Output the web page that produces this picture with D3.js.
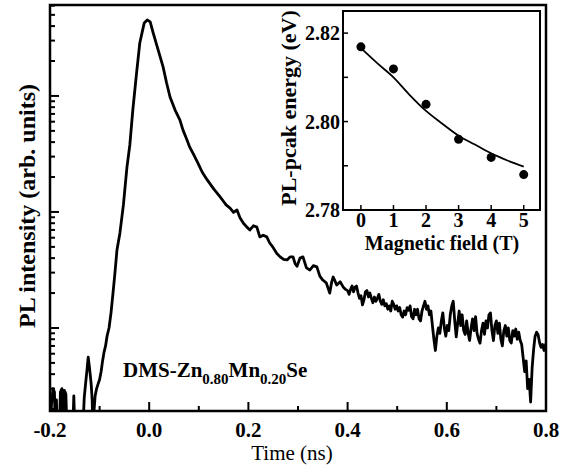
<!DOCTYPE html>
<html>
<head>
<meta charset="utf-8">
<script src="https://d3js.org/d3.v7.min.js"></script>
<style>
  body { margin: 0; background: #fff; }
  text { font-family: "Liberation Serif", "Times New Roman", serif; fill: #000; }
</style>
</head>
<body>
<div id="area"></div>
<script>
// time-resolved PL trace, [time (ns), intensity (arb. units)]
var plTrace = [
  [-0.200,0.10],[-0.197,0.22],[-0.194,0.30],[-0.191,0.28],[-0.189,0.10],[-0.187,0.24],[-0.185,0.10],
  [-0.182,0.10],[-0.179,0.28],[-0.176,0.30],[-0.173,0.12],[-0.171,0.29],[-0.168,0.27],[-0.165,0.10],
  [-0.160,0.10],[-0.155,0.10],[-0.152,0.26],[-0.149,0.10],[-0.145,0.10],[-0.140,0.10],[-0.135,0.10],
  [-0.131,0.25],[-0.128,0.34],[-0.125,0.45],[-0.123,0.56],[-0.121,0.48],[-0.119,0.40],[-0.117,0.33],
  [-0.115,0.24],[-0.113,0.10],[-0.111,0.20],[-0.109,0.26],[-0.106,0.30],[-0.103,0.33],[-0.100,0.36],
  [-0.097,0.42],[-0.094,0.52],[-0.091,0.62],[-0.088,0.70],[-0.085,0.85],[-0.081,1.0],[-0.077,1.35],
  [-0.073,2.0],[-0.069,3.0],[-0.065,4.7],[-0.059,6.6],[-0.052,11.5],[-0.045,24],[-0.039,38],
  [-0.033,76],[-0.026,150],[-0.019,286],[-0.010,426],[-0.004,452],[0.002,435],[0.008,349],
  [0.018,249],[0.028,178],[0.035,130],[0.042,98],[0.052,76],[0.062,62],[0.068,51],[0.075,43],
  [0.082,36],[0.090,31],[0.098,26.5],[0.107,22],[0.117,18.9],[0.130,15.8],[0.143,13.5],[0.150,12.3],
  [0.155,11.5],[0.163,10.8],[0.170,9.9],[0.177,10.4],[0.183,8.9],[0.190,8.0],[0.197,7.4],[0.203,7.0],
  [0.210,7.6],[0.217,7.4],[0.223,6.1],[0.230,6.3],[0.237,6.1],[0.243,5.4],[0.249,5.0],[0.257,4.4],
  [0.264,4.1],[0.271,3.9],[0.278,3.86],[0.284,4.1],[0.290,4.1],[0.294,3.6],[0.298,3.4],[0.304,4.0],
  [0.310,4.1],[0.317,3.3],[0.324,3.16],[0.331,3.45],[0.338,3.36],[0.344,2.8],[0.350,2.59],[0.357,2.45],
  [0.364,2.00],[0.368,2.5],[0.371,2.75],[0.378,2.35],[0.385,2.5],[0.391,2.26],[0.396,2.15],
  [0.400,2.10],[0.403,1.95],[0.406,2.15],[0.409,2.30],[0.412,2.05],[0.415,2.25],[0.418,2.30],[0.421,2.00],
  [0.424,1.80],[0.427,1.90],[0.430,1.58],[0.433,1.75],[0.436,2.05],[0.439,2.10],[0.442,1.85],[0.445,2.00],
  [0.448,1.80],[0.451,1.65],[0.454,1.85],[0.457,1.70],[0.460,1.80],[0.463,1.95],[0.466,1.70],[0.469,1.60],
  [0.472,1.75],[0.475,1.55],[0.478,1.62],[0.481,1.45],[0.484,1.55],[0.487,1.40],[0.490,1.70],[0.493,1.60],
  [0.496,1.45],[0.499,1.55],[0.502,1.40],[0.505,1.50],[0.508,1.30],[0.511,1.24],[0.514,1.40],[0.517,1.30],
  [0.520,1.50],[0.523,1.42],[0.526,1.55],[0.529,1.25],[0.532,1.20],[0.535,1.45],[0.538,1.30],[0.541,1.45],
  [0.544,1.20],[0.547,1.15],[0.550,1.40],[0.553,1.55],[0.556,1.70],[0.559,1.45],[0.562,1.55],[0.565,1.30],
  [0.568,1.40],[0.571,1.05],[0.574,0.80],[0.577,0.64],[0.580,0.85],[0.583,1.00],[0.586,0.90],[0.589,1.15],
  [0.592,1.35],[0.595,1.00],[0.598,0.85],[0.601,1.05],[0.604,0.95],[0.607,1.30],[0.610,1.55],[0.613,1.70],
  [0.616,1.15],[0.619,0.84],[0.622,1.10],[0.625,1.40],[0.628,1.05],[0.631,1.30],[0.634,0.95],[0.637,0.88],
  [0.640,1.15],[0.643,0.90],[0.646,0.78],[0.649,1.00],[0.652,1.20],[0.655,0.95],[0.658,1.25],[0.661,0.90],
  [0.664,0.80],[0.667,0.74],[0.670,0.95],[0.673,1.10],[0.676,0.88],[0.679,1.15],[0.682,1.00],[0.685,1.30],
  [0.688,1.35],[0.691,0.95],[0.694,0.78],[0.697,1.05],[0.700,1.15],[0.703,0.90],[0.706,1.10],[0.709,0.80],
  [0.712,0.70],[0.715,0.95],[0.718,1.05],[0.721,0.85],[0.724,1.00],[0.727,0.78],[0.730,0.74],[0.733,0.95],
  [0.736,0.85],[0.739,0.98],[0.742,0.80],[0.745,0.92],[0.748,0.78],[0.751,0.72],[0.754,0.55],[0.757,0.42],
  [0.760,0.52],[0.763,0.30],[0.766,0.36],[0.769,0.23],[0.772,0.45],[0.775,0.65],[0.778,0.85],[0.781,0.92],
  [0.784,0.88],[0.787,0.75],[0.790,0.68],[0.793,0.72],[0.796,0.64],[0.799,0.72],[0.800,0.70]
];

var timeTicks = [-0.2, 0.0, 0.2, 0.4, 0.6, 0.8];
var timeTickLabels = ["-0.2", "0.0", "0.2", "0.4", "0.6", "0.8"];
var timeMinorTicks = [-0.1, 0.1, 0.3, 0.5, 0.7];

// inset: PL peak energy vs magnetic field
var fieldT = [0, 1, 2, 3, 4, 5];
var peakEnergy = [2.8169, 2.8119, 2.8039, 2.7960, 2.7919, 2.7880];
var fitField = [0, 0.5, 1, 1.5, 2, 2.5, 3, 3.5, 4, 4.5, 5];
var fitEnergy = [2.8166, 2.8132, 2.8100, 2.8060, 2.8024, 2.7995, 2.7968, 2.7948, 2.7928, 2.7912, 2.7898];
var energyTicks = [2.78, 2.80, 2.82];
var energyTickLabels = ["2.78", "2.80", "2.82"];
var energyMinorTicks = [2.79, 2.81];
var fieldTickLabels = ["0", "1", "2", "3", "4", "5"];

var width = 574, height = 468;
var mLeft = 50, mRight = 546, mTop = 5, mBottom = 411;

var svg = d3.select("#area")
.append("svg")
  .attr("width", width)
  .attr("height", height);

var x = d3.scaleLinear().domain([-0.2, 0.8]).range([mLeft, mRight]);
var y = d3.scaleLog().domain([0.1925, 608]).range([mBottom, mTop]);

svg.append("clipPath").attr("id", "plot-clip")
.append("rect")
  .attr("x", mLeft).attr("y", mTop)
  .attr("width", mRight - mLeft).attr("height", mBottom - mTop);

// main trace
var line = d3.line()
  .x(function(d) { return x(d[0]); })
  .y(function(d) { return y(d[1]); });

svg.append("path")
  .datum(plTrace)
  .attr("clip-path", "url(#plot-clip)")
  .attr("d", line)
  .attr("fill", "none")
  .attr("stroke", "#000")
  .attr("stroke-width", 2.8)
  .attr("stroke-linejoin", "round");

// log ticks on left, pointing inward
var yTicks = y.ticks();
svg.append("g").selectAll("line")
.data(yTicks)
.enter()
.append("line")
  .attr("x1", mLeft)
  .attr("x2", function(d) { return Math.abs(Math.log10(d) - Math.round(Math.log10(d))) < 1e-6 ? mLeft + 9 : mLeft + 5; })
  .attr("y1", function(d) { return y(d); })
  .attr("y2", function(d) { return y(d); })
  .attr("stroke", "#000")
  .attr("stroke-width", 2);

// time ticks, pointing up
svg.append("g").selectAll("line")
.data(timeTicks.map(function(t) { return [t, 9]; }).concat(timeMinorTicks.map(function(t) { return [t, 5]; })))
.enter()
.append("line")
  .attr("x1", function(d) { return x(d[0]); })
  .attr("x2", function(d) { return x(d[0]); })
  .attr("y1", mBottom)
  .attr("y2", function(d) { return mBottom - d[1]; })
  .attr("stroke", "#000")
  .attr("stroke-width", 2);

svg.append("g").selectAll("text")
.data(timeTicks)
.enter()
.append("text")
  .attr("x", function(d) { return x(d); })
  .attr("y", 437)
  .attr("text-anchor", "middle")
  .style("font-size", "21px")
  .style("font-weight", "bold")
  .text(function(d, i) { return timeTickLabels[i]; });

svg.append("text")
  .attr("x", 292).attr("y", 460)
  .attr("text-anchor", "middle")
  .style("font-size", "21px")
  .text("Time (ns)");

svg.append("text")
  .attr("transform", "translate(35,206) rotate(-90)")
  .attr("text-anchor", "middle")
  .style("font-size", "24px")
  .style("font-weight", "bold")
  .text("PL intensity (arb. units)");

var label = svg.append("text")
  .attr("x", 123).attr("y", 377)
  .style("font-size", "21px")
  .style("font-weight", "bold");
label.append("tspan").text("DMS-Zn");
label.append("tspan").attr("dy", 7).style("font-size", "15px").text("0.80");
label.append("tspan").attr("dy", -7).text("Mn");
label.append("tspan").attr("dy", 7).style("font-size", "15px").text("0.20");
label.append("tspan").attr("dy", -7).text("Se");

svg.append("rect")
  .attr("x", mLeft).attr("y", mTop)
  .attr("width", mRight - mLeft).attr("height", mBottom - mTop)
  .attr("fill", "none")
  .attr("stroke", "#000")
  .attr("stroke-width", 2.5);

// ---- inset ----
var il = 343, ir = 540, it = 11, ib = 210;
var ix = d3.scaleLinear().domain([-0.55, 5.5]).range([il, ir]);
var iy = d3.scaleLinear().domain([2.78, 2.825]).range([ib, it]);

var inset = svg.append("g");

inset.append("rect")
  .attr("x", il).attr("y", it)
  .attr("width", ir - il).attr("height", ib - it)
  .attr("fill", "#fff");

inset.append("g").selectAll("line")
.data(energyTicks.concat(energyMinorTicks))
.enter()
.append("line")
  .attr("x1", il).attr("x2", il + 5)
  .attr("y1", function(d) { return iy(d); })
  .attr("y2", function(d) { return iy(d); })
  .attr("stroke", "#000")
  .attr("stroke-width", 1.5);

inset.append("g").selectAll("line")
.data(fieldT)
.enter()
.append("line")
  .attr("x1", function(d) { return ix(d); })
  .attr("x2", function(d) { return ix(d); })
  .attr("y1", ib).attr("y2", ib - 5)
  .attr("stroke", "#000")
  .attr("stroke-width", 1.5);

var fitLine = d3.line()
  .x(function(d, i) { return ix(fitField[i]); })
  .y(function(d) { return iy(d); })
  .curve(d3.curveMonotoneX);

inset.append("path")
  .datum(fitEnergy)
  .attr("d", fitLine)
  .attr("fill", "none")
  .attr("stroke", "#000")
  .attr("stroke-width", 1.8);

inset.append("g").selectAll("circle")
.data(peakEnergy)
.enter()
.append("circle")
  .attr("cx", function(d, i) { return ix(fieldT[i]); })
  .attr("cy", function(d) { return iy(d); })
  .attr("r", 4.5)
  .attr("fill", "#000");

inset.append("rect")
  .attr("x", il).attr("y", it)
  .attr("width", ir - il).attr("height", ib - it)
  .attr("fill", "none")
  .attr("stroke", "#000")
  .attr("stroke-width", 2);

inset.append("g").selectAll("text")
.data(energyTicks)
.enter()
.append("text")
  .attr("x", il - 3)
  .attr("y", function(d) { return iy(d) + 7; })
  .attr("text-anchor", "end")
  .style("font-size", "20px")
  .style("font-weight", "bold")
  .text(function(d, i) { return energyTickLabels[i]; });

inset.append("g").selectAll("text")
.data(fieldT)
.enter()
.append("text")
  .attr("x", function(d) { return ix(d); })
  .attr("y", 227)
  .attr("text-anchor", "middle")
  .style("font-size", "20px")
  .style("font-weight", "bold")
  .text(function(d, i) { return fieldTickLabels[i]; });

inset.append("text")
  .attr("x", 442).attr("y", 250)
  .attr("text-anchor", "middle")
  .style("font-size", "20px")
  .style("font-weight", "bold")
  .text("Magnetic field (T)");

inset.append("text")
  .attr("transform", "translate(296,108) rotate(-90)")
  .attr("text-anchor", "middle")
  .style("font-size", "22px")
  .style("font-weight", "bold")
  .text("PL-pcak energy (eV)");
</script>
</body>
</html>
